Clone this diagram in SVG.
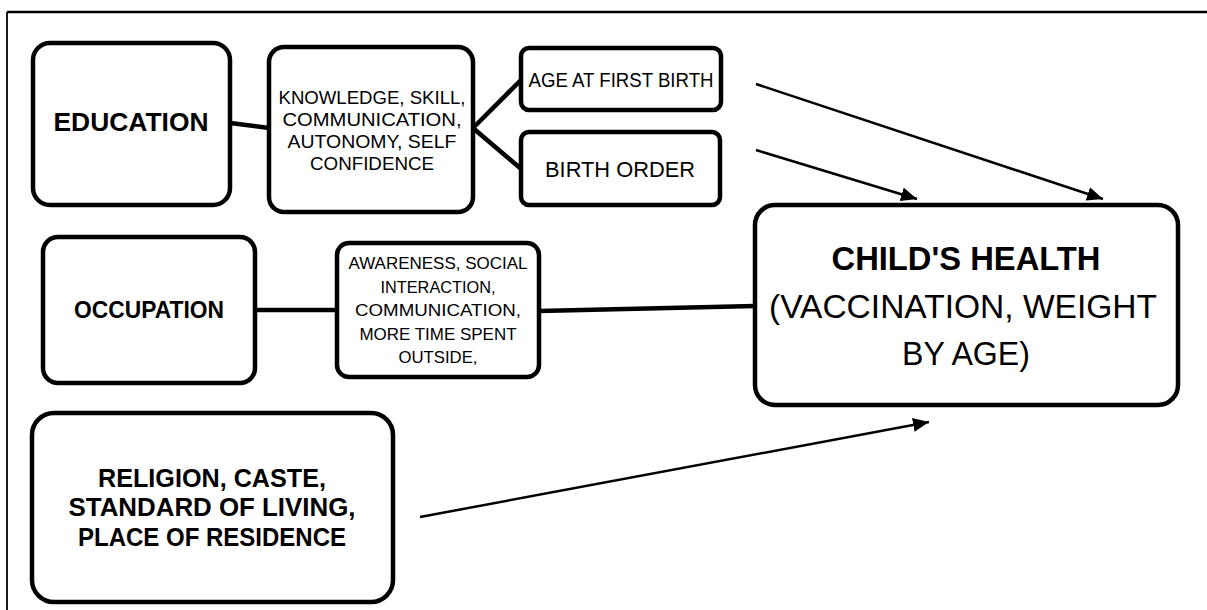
<svg xmlns="http://www.w3.org/2000/svg" width="1207" height="610" viewBox="0 0 1207 610">
  <defs>
    <marker id="ah" markerUnits="userSpaceOnUse" markerWidth="18" markerHeight="14" refX="16" refY="7" orient="auto">
      <path d="M0,0 L16,7 L0,14 Z" fill="#000"/>
    </marker>
    <style>
      .box { fill: #fff; stroke: #000; stroke-width: 4.5; }
      .link { stroke: #000; stroke-width: 4.5; fill: none; }
      .arrow { stroke: #000; stroke-width: 2.5; fill: none; marker-end: url(#ah); }
      .frame { stroke: #000; fill: none; }
      text { font-family: "Liberation Sans", Arial, sans-serif; fill: #000; text-anchor: middle; }
      .b { font-weight: bold; }
    </style>
  </defs>
  <rect width="1207" height="610" fill="#fff"/>
  <g id="frame">
    <line class="frame" x1="7" y1="12" x2="1207" y2="12" stroke-width="2.5"/>
    <line class="frame" x1="7" y1="12" x2="7" y2="610" stroke-width="1.8"/>
  </g>
  <g id="connectors">
    <line class="link" x1="230" y1="123" x2="269" y2="128"/>
    <polyline class="link" points="521,80 473,128 520,168"/>
    <line class="link" x1="255" y1="310" x2="337" y2="310"/>
    <line class="link" x1="539" y1="311" x2="755" y2="306"/>
    <line class="arrow" x1="756" y1="84" x2="1103" y2="199"/>
    <line class="arrow" x1="756" y1="150" x2="917" y2="199"/>
    <line class="arrow" x1="420" y1="517" x2="929" y2="422"/>
  </g>
  <g id="education">
    <rect class="box" x="33" y="43" width="197" height="162" rx="17"/>
    <text class="b" x="131" y="131" font-size="26" textLength="155" lengthAdjust="spacingAndGlyphs">EDUCATION</text>
  </g>
  <g id="knowledge">
    <rect class="box" x="269" y="47" width="204" height="165" rx="15"/>
    <text x="372" y="104" font-size="19" textLength="187" lengthAdjust="spacingAndGlyphs">KNOWLEDGE, SKILL,</text>
    <text x="372" y="126" font-size="19" textLength="179" lengthAdjust="spacingAndGlyphs">COMMUNICATION,</text>
    <text x="372" y="148" font-size="19" textLength="169" lengthAdjust="spacingAndGlyphs">AUTONOMY, SELF</text>
    <text x="372" y="170" font-size="19" textLength="124" lengthAdjust="spacingAndGlyphs">CONFIDENCE</text>
  </g>
  <g id="age-first-birth">
    <rect class="box" x="521" y="48" width="200" height="62" rx="8"/>
    <text x="621" y="87" font-size="20" textLength="185" lengthAdjust="spacingAndGlyphs">AGE AT FIRST BIRTH</text>
  </g>
  <g id="birth-order">
    <rect class="box" x="521" y="132" width="199" height="73" rx="8"/>
    <text x="620" y="177" font-size="22" textLength="150" lengthAdjust="spacingAndGlyphs">BIRTH ORDER</text>
  </g>
  <g id="occupation">
    <rect class="box" x="43" y="237" width="212" height="146" rx="15"/>
    <text class="b" x="149" y="318" font-size="24" textLength="150" lengthAdjust="spacingAndGlyphs">OCCUPATION</text>
  </g>
  <g id="awareness">
    <rect class="box" x="337" y="243" width="202" height="134" rx="12"/>
    <text x="438" y="269" font-size="17" textLength="179" lengthAdjust="spacingAndGlyphs">AWARENESS, SOCIAL</text>
    <text x="438" y="292.5" font-size="17" textLength="115" lengthAdjust="spacingAndGlyphs">INTERACTION,</text>
    <text x="438" y="316" font-size="17" textLength="166" lengthAdjust="spacingAndGlyphs">COMMUNICATION,</text>
    <text x="438" y="339.5" font-size="17" textLength="157" lengthAdjust="spacingAndGlyphs">MORE TIME SPENT</text>
    <text x="438" y="363" font-size="17" textLength="79" lengthAdjust="spacingAndGlyphs">OUTSIDE,</text>
  </g>
  <g id="childs-health">
    <rect class="box" x="755" y="205" width="423" height="200" rx="20"/>
    <text class="b" x="966" y="270" font-size="34" textLength="269" lengthAdjust="spacingAndGlyphs">CHILD'S HEALTH</text>
    <text x="963" y="318" font-size="34" textLength="388" lengthAdjust="spacingAndGlyphs">(VACCINATION, WEIGHT</text>
    <text x="966" y="365" font-size="34" textLength="128" lengthAdjust="spacingAndGlyphs">BY AGE)</text>
  </g>
  <g id="religion">
    <rect class="box" x="32" y="413" width="361" height="189" rx="22"/>
    <text class="b" x="212" y="487" font-size="25" textLength="228" lengthAdjust="spacingAndGlyphs">RELIGION, CASTE,</text>
    <text class="b" x="212" y="516" font-size="25" textLength="287" lengthAdjust="spacingAndGlyphs">STANDARD OF LIVING,</text>
    <text class="b" x="212" y="546" font-size="25" textLength="268" lengthAdjust="spacingAndGlyphs">PLACE OF RESIDENCE</text>
  </g>
</svg>
